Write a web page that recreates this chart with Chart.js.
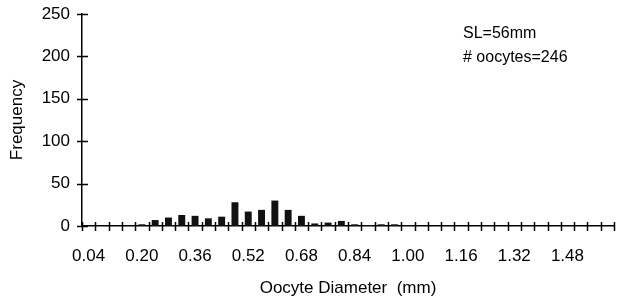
<!DOCTYPE html>
<html>
<head>
<meta charset="utf-8">
<script src="https://cdn.jsdelivr.net/npm/chart.js@4"></script>
<style>
  html, body { margin: 0; padding: 0; background: #fff; }
  #wrap { width: 621px; height: 307px; }
</style>
</head>
<body>
<div id="wrap"><canvas id="oocyteChart" width="621" height="307"></canvas></div>
<script>
    // 난모세포 직경 분포 (bin = 0.04 mm)
    const diameters = ['0.04', '0.08', '0.12', '0.16', '0.20', '0.24', '0.28', '0.32', '0.36', '0.40',
                       '0.44', '0.48', '0.52', '0.56', '0.60', '0.64', '0.68', '0.72', '0.76', '0.80',
                       '0.84', '0.88', '0.92', '0.96', '1.00', '1.04', '1.08', '1.12', '1.16', '1.20',
                       '1.24', '1.28', '1.32', '1.36', '1.40', '1.44', '1.48', '1.52', '1.56', '1.60'];
    const frequency = [0, 0, 0, 0, 2, 7, 10, 13, 12, 9,
                       11, 28, 17, 19, 30, 19, 12, 3, 4, 6,
                       2, 1, 2, 2, 1, 0, 0, 0, 0, 0,
                       0, 0, 0, 0, 0, 0, 0, 0, 0, 0];
    const yTicks = [0, 50, 100, 150, 200, 250];
    const notes = ['SL=56mm', '# oocytes=246'];

    const font = { family: '"Liberation Sans", Arial, sans-serif', size: 17 };

    // 축을 가로지르는 눈금 표시
    const crossTicks = {
        id: 'crossTicks',
        afterDraw(chart) {
            const { ctx, scales: { x, y } } = chart;
            ctx.save();
            ctx.strokeStyle = '#000';
            ctx.lineWidth = 1.5;
            const half = (x.getPixelForValue(1) - x.getPixelForValue(0)) / 2;
            for (let i = 0; i <= diameters.length; i++) {
                const px = Math.round(x.getPixelForValue(i) - half) + 0.5;
                ctx.beginPath();
                ctx.moveTo(px, y.bottom - 4);
                ctx.lineTo(px, y.bottom + 5);
                ctx.stroke();
            }
            yTicks.forEach(v => {
                const py = Math.round(y.getPixelForValue(v)) + 0.5;
                ctx.beginPath();
                ctx.moveTo(x.left - 5, py);
                ctx.lineTo(x.left + 6, py);
                ctx.stroke();
            });
            // 주석
            ctx.fillStyle = '#000';
            ctx.font = '16px "Liberation Sans", Arial, sans-serif';
            ctx.textBaseline = 'middle';
            ctx.fillText(notes[0], 463, 34);
            ctx.fillText(notes[1], 463, 58);
            ctx.restore();
        }
    };

    const ctx = document.getElementById('oocyteChart').getContext('2d');
    new Chart(ctx, {
        type: 'bar',
        data: {
            labels: diameters,
            datasets: [{
                data: frequency,
                backgroundColor: '#111',
                borderWidth: 0,
                barPercentage: 0.52,
                categoryPercentage: 1.0
            }]
        },
        options: {
            responsive: false,
            animation: false,
            layout: { padding: { top: 14, right: 7, left: 0, bottom: 0 } },
            plugins: {
                legend: { display: false },
                tooltip: { enabled: false }
            },
            scales: {
                x: {
                    offset: true,
                    grid: { display: false, drawTicks: false },
                    border: { color: '#000', width: 1.5 },
                    ticks: {
                        autoSkip: false,
                        maxRotation: 0,
                        padding: 20,
                        color: '#000',
                        font: font,
                        callback: (v, i) => (i % 4 === 0 ? diameters[i] : '')
                    },
                    title: {
                        display: true,
                        text: 'Oocyte Diameter  (mm)',
                        color: '#000',
                        font: font,
                        padding: { top: 4, bottom: 8 }
                    },
                    afterFit: s => { s.height = 81; s.paddingLeft = 0; s.paddingRight = 0; }
                },
                y: {
                    min: 0,
                    max: 250,
                    afterBuildTicks: s => { s.ticks = yTicks.map(v => ({ value: v })); },
                    grid: { display: false, drawTicks: false },
                    border: { color: '#000', width: 1.5 },
                    ticks: { padding: 12, color: '#000', font: font },
                    title: {
                        display: true,
                        text: 'Frequency',
                        color: '#000',
                        font: font,
                        padding: { top: 7, bottom: 0 }
                    },
                    afterFit: s => { s.width = 82; s.paddingTop = 0; s.paddingBottom = 0; }
                }
            }
        },
        plugins: [crossTicks]
    });
</script>
</body>
</html>
